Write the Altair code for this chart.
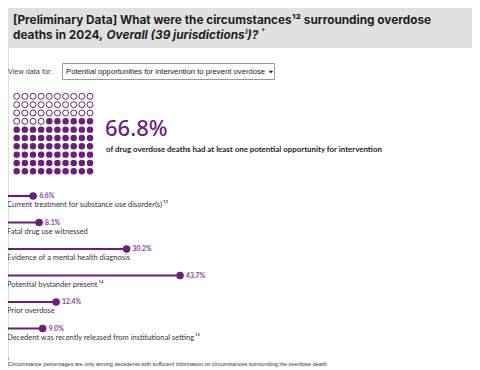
import altair as alt
import pandas as pd

# ---------------- data ----------------
categories = [
    "Current treatment for substance use disorder(s)",
    "Fatal drug use witnessed",
    "Evidence of a mental health diagnosis",
    "Potential bystander present",
    "Prior overdose",
    "Decedent was recently released from institutional setting",
]
category_notes = ["13", "", "", "14", "", "15"]
values = [6.6, 8.1, 30.2, 43.7, 12.4, 9.0]
value_labels = ["6.6%", "8.1%", "30.2%", "43.7%", "12.4%", "9.0%"]

headline_value = 66.8
headline_label = "66.8%"
headline_text = "of drug overdose deaths had at least one potential opportunity for intervention"
waffle_filled = 66  # filled icons shown out of 100

title_line1 = "[Preliminary Data] What were the circumstances\u00b9\u00b2 surrounding overdose"
title_line2 = ["deaths in 2024, ", "Overall (39 jurisdictions\u2071)?", "†"]
select_label = "View data for:"
select_text = "Potential opportunities for intervention to prevent overdose"
footnote_mark = "i"
footnote_text = "Circumstance percentages are only among decedents with sufficient information on circumstances surrounding the overdose death."

# ---------------- style ----------------
PURPLE = "#6c1f7a"
TEXT = "#333333"
TITLE_C = "#1e1e1e"
W, H = 464, 360
TITLE_FONT = "Inter"
BODY_FONT = "Lato"
TS = 11.8

SUP = str.maketrans("0123456789", "\u2070\u00b9\u00b2\u00b3\u2074\u2075\u2076\u2077\u2078\u2079")


def txt(s, x, y, size, color=TEXT, weight="normal", style="normal", font=BODY_FONT,
        align="left", baseline="alphabetic"):
    return alt.Chart(pd.DataFrame({"t": [s]})).mark_text(
        align=align, baseline=baseline, fontSize=size, fontWeight=weight,
        fontStyle=style, font=font, color=color,
    ).encode(x=alt.value(x), y=alt.value(y), text="t:N")


def box(x, x2, y, y2, fill, stroke=None):
    kw = dict(color=fill)
    if stroke:
        kw.update(stroke=stroke, strokeWidth=1)
    return alt.Chart(pd.DataFrame({"a": [0]})).mark_rect(**kw).encode(
        x=alt.value(x), x2=alt.value(x2), y=alt.value(y), y2=alt.value(y2))


layers = []

# header
layers.append(box(-1, 464, -1, 40, "#e1e1e1"))
layers.append(txt(title_line1, 5, 16, TS, TITLE_C, "bold", font=TITLE_FONT))
layers.append(txt(title_line2[0], 5, 30.5, TS, TITLE_C, "bold", font=TITLE_FONT))
layers.append(txt(title_line2[1], 98.5, 30.5, TS, TITLE_C, "bold", "italic", font=TITLE_FONT))
layers.append(txt(title_line2[2], 253.5, 25, 6, TITLE_C, "bold", font=TITLE_FONT))

# selector
layers.append(txt(select_label, 0, 63.5, 7.3, "#444444", font="Liberation Sans", baseline="middle"))
layers.append(box(54.5, 266.5, 55.5, 71.5, "#ffffff", "#999999"))
layers.append(txt(select_text, 58, 63.5, 7.7, "#222222", font="Liberation Sans", baseline="middle"))
layers.append(alt.Chart(pd.DataFrame({"a": [0]})).mark_point(
    shape="M-1,-0.5L0,0.5L1,-0.5", filled=False, size=9, strokeWidth=1.4, color="#222222", opacity=1
).encode(x=alt.value(263), y=alt.value(63.5)))

# waffle
cells = []
for r in range(10):
    for c in range(10):
        order = (9 - r) * 10 + (9 - c)
        cells.append({"row": r, "col": c, "filled": order < waffle_filled})
waffle_df = pd.DataFrame(cells)
wx = alt.X("col:Q", scale=alt.Scale(domain=[0, 9], range=[8.7, 82]), axis=None)
wy = alt.Y("row:Q", scale=alt.Scale(domain=[0, 9], range=[88.3, 163.3]), axis=None)
layers.append(alt.Chart(waffle_df).transform_filter("datum.filled").mark_point(
    shape="circle", filled=True, size=42, color=PURPLE, opacity=1).encode(x=wx, y=wy))
layers.append(alt.Chart(waffle_df).transform_filter("!datum.filled").mark_point(
    shape="circle", filled=False, size=36, color=PURPLE, strokeWidth=1, opacity=1).encode(x=wx, y=wy))

# headline
layers.append(txt(headline_label, 97, 128, 22, PURPLE, 500, font="Noto Sans"))
layers.append(txt(headline_text, 98, 141.5, 7.9, "#222222", "bold", font=BODY_FONT, baseline="middle"))

# lollipops
lol = pd.DataFrame({
    "idx": list(range(len(categories))),
    "category": [c + ("\u2009" + n.translate(SUP) if n else "") for c, n in zip(categories, category_notes)],
    "value": values,
    "vlabel": value_labels,
    "zero": [0] * len(values),
})
lx = alt.X("value:Q", scale=alt.Scale(domain=[0, 100], range=[-1, 395]), axis=None)
lx0 = alt.X("zero:Q", scale=alt.Scale(domain=[0, 100], range=[-1, 395]), axis=None)
ly = alt.Y("idx:Q", scale=alt.Scale(domain=[0, 5], range=[188, 320.5]), axis=None)
base = alt.Chart(lol)
layers.append(base.mark_rule(color=PURPLE, strokeWidth=2.2).encode(x=lx0, x2="value:Q", y=ly))
layers.append(base.mark_circle(color=PURPLE, size=58, opacity=1).encode(x=lx, y=ly))
layers.append(base.mark_text(align="left", baseline="middle", dx=6, fontSize=6.8,
                             fontWeight="bold", color="#8a3b94", font=BODY_FONT).encode(
    x=lx, y=ly, text="vlabel:N"))
layers.append(base.mark_text(align="left", baseline="middle", dy=9, fontSize=7.5,
                             color=TEXT, font=BODY_FONT).encode(x=lx0, y=ly, text="category:N"))

# footnote
layers.append(txt(footnote_mark, 0, 352, 4, "#333333", font="Liberation Sans"))
layers.append(txt(footnote_text, 0, 356.3, 5.5, "#333333", font="Liberation Sans", baseline="middle"))

chart = alt.layer(*layers).resolve_scale(x="independent", y="independent").properties(
    width=W, height=H, padding=0, autosize=alt.AutoSizeParams(type="none")
).configure_view(stroke=None).configure(background="#ffffff")

chart.save("out.html", embed_options={"renderer": "svg", "actions": False})
